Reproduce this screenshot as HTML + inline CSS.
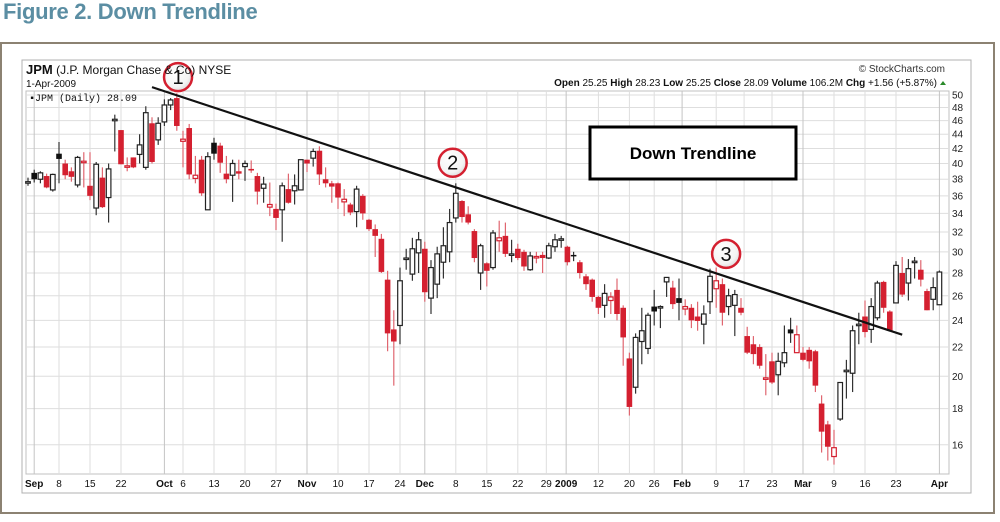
<!DOCTYPE html>
<html><head><meta charset="utf-8">
<style>
html,body{margin:0;padding:0;background:#fff;width:1000px;height:522px;overflow:hidden}
svg{display:block;font-family:"Liberation Sans",Arial,sans-serif}
</style></head>
<body>
<svg id="chart" width="1000" height="522" viewBox="0 0 1000 522">
<defs>
<radialGradient id="cg1" cx="40%" cy="35%" r="70%"><stop offset="0" stop-color="#ffffff"/><stop offset="0.7" stop-color="#f4f4f4"/><stop offset="1" stop-color="#d8d8d8"/></radialGradient>
</defs>
<text x="3" y="19" font-size="22" font-weight="bold" fill="#5b8ea3" letter-spacing="-0.3">Figure 2. Down Trendline</text>
<rect x="1" y="43" width="993" height="470" fill="none" stroke="#8c8272" stroke-width="2"/>
<rect x="22" y="60" width="949" height="433" fill="#fff" stroke="#b0b0b0" stroke-width="1"/>
<rect x="26" y="91" width="923" height="383" fill="#fff" stroke="#c0c0c0" stroke-width="1"/>
<g id="grid"></g>
<g id="yaxis"></g>
<g id="xaxis"></g>
<g id="candles"></g>
<g id="trend"></g>
<text x="26" y="74" font-size="12" fill="#111"><tspan font-weight="bold" font-size="13">JPM</tspan> (J.P. Morgan Chase &amp; Co) NYSE</text>
<text x="26" y="87" font-size="10" fill="#111">1-Apr-2009</text>
<text x="945" y="72" font-size="10" fill="#333" text-anchor="end">© StockCharts.com</text>
<text x="937" y="86" font-size="10" fill="#111" text-anchor="end"><tspan font-weight="bold">Open</tspan> 25.25  <tspan font-weight="bold">High</tspan> 28.23  <tspan font-weight="bold">Low</tspan> 25.25  <tspan font-weight="bold">Close</tspan> 28.09  <tspan font-weight="bold">Volume</tspan> 106.2M  <tspan font-weight="bold">Chg</tspan> +1.56 (+5.87%)</text>
<polygon points="940,85 946,85 943,81" fill="#2a8a2a"/>
<text x="29" y="101" font-size="10" font-family="Liberation Mono, monospace" fill="#111">▪JPM (Daily) 28.09</text>
<rect x="590" y="127" width="206" height="52" fill="#fff" stroke="#000" stroke-width="3"/>
<text x="693" y="159" font-size="17" font-weight="bold" text-anchor="middle" fill="#000">Down Trendline</text>
</svg>
<script>
const opens=[37.7,38.8,38.0,38.4,36.7,41.3,40.0,39.0,37.3,40.2,37.2,34.6,38.2,35.8,46.0,44.6,39.6,40.8,41.2,39.5,45.6,43.2,45.8,48.4,49.5,43.0,44.9,38.1,40.5,34.4,42.8,42.4,38.7,38.5,39.0,39.6,39.3,38.4,36.9,34.7,34.5,34.4,36.8,36.6,36.7,40.5,40.7,41.7,38.0,37.5,37.5,35.3,35.0,34.2,36.0,33.3,32.3,31.3,27.4,23.3,23.6,29.3,27.9,29.9,30.3,25.8,27.0,29.0,30.0,33.5,35.4,33.9,32.1,28.0,28.9,28.5,31.1,31.6,29.7,30.3,30.0,28.3,29.5,29.7,29.4,30.5,31.2,30.5,29.7,29.0,27.7,27.4,25.9,25.2,25.6,26.5,25.0,21.2,19.3,22.4,21.9,25.1,25.0,27.2,26.7,25.8,24.9,25.0,24.3,23.7,25.5,26.6,27.0,25.1,25.2,25.0,22.8,22.2,22.0,19.8,21.0,20.1,20.9,23.3,21.6,21.6,21.8,21.7,18.3,17.1,15.4,17.4,20.3,20.2,23.6,24.3,23.3,24.2,27.2,24.7,25.4,28.0,27.1,29.0,28.3,26.4,25.7,25.25];
const highs=[38.2,39.2,39.0,38.7,38.7,42.9,40.5,39.5,41.0,41.5,41.5,40.2,39.5,40.0,46.9,44.6,40.8,40.8,44.0,48.2,46.5,46.5,49.3,49.5,50.3,44.5,45.5,41.0,41.0,41.5,43.5,42.8,41.0,40.5,40.5,40.4,40.4,38.8,38.3,37.6,35.1,37.6,38.7,38.6,40.5,40.5,42.0,42.3,39.5,37.8,37.6,36.8,35.2,37.2,36.2,33.4,32.8,31.8,28.2,24.8,28.5,30.3,31.4,32.0,31.0,29.2,30.5,32.5,34.5,37.5,35.5,34.8,32.3,30.8,29.0,32.2,33.2,33.0,31.2,30.8,30.2,30.0,30.0,30.0,30.9,31.8,31.6,30.6,30.0,29.2,27.9,27.5,26.0,27.0,26.3,27.5,25.2,21.6,23.0,25.0,24.6,26.5,25.2,27.6,27.3,27.5,25.7,25.3,25.5,25.2,28.4,28.5,27.5,26.6,26.5,25.8,23.5,22.8,22.2,21.5,21.6,21.6,23.6,24.2,23.6,22.0,22.0,21.8,18.8,17.3,16.8,19.6,21.1,23.6,24.6,25.6,25.8,27.3,27.3,24.8,29.1,29.5,29.3,29.5,29.2,26.6,27.6,28.23];
const lows=[37.2,37.6,37.5,36.9,36.5,37.5,38.0,37.7,37.0,37.0,35.5,33.8,34.6,33.0,41.6,39.9,39.0,39.4,40.0,39.2,40.0,42.5,45.2,47.6,44.5,39.5,38.0,37.5,36.0,34.4,40.5,38.8,37.5,35.3,38.0,37.8,38.8,35.0,35.2,33.7,32.2,31.0,35.1,35.0,36.7,38.9,39.6,37.3,37.0,35.2,34.5,33.7,33.8,32.5,33.3,32.1,29.5,28.0,21.7,19.4,22.2,28.3,27.3,28.0,25.5,24.5,25.8,27.5,29.0,33.0,33.0,32.8,29.0,26.5,26.8,28.3,30.0,29.5,29.0,29.2,28.2,28.2,28.9,28.0,29.3,30.0,30.4,28.7,29.1,27.5,26.5,25.5,24.5,24.2,24.5,24.0,20.7,17.6,18.9,20.8,21.5,23.6,23.4,25.9,24.9,24.0,24.4,23.4,23.2,22.2,24.5,25.0,23.6,24.4,22.8,24.4,21.5,20.8,20.5,18.8,19.5,18.8,20.6,22.3,21.6,21.0,20.5,19.0,15.6,15.2,15.0,17.3,18.6,19.0,22.2,22.7,22.3,24.0,24.6,23.2,25.4,25.9,25.6,27.5,26.8,24.8,24.8,25.25];
const closes=[37.7,38.0,38.8,37.0,38.6,40.6,38.5,38.3,40.8,40.3,36.0,39.9,34.7,39.3,46.2,39.9,39.7,39.5,42.5,47.2,40.2,45.6,48.4,49.2,45.2,43.3,38.6,38.5,36.3,40.9,41.3,40.1,38.0,40.0,38.7,40.0,39.1,36.5,37.4,35.0,33.5,37.2,35.2,37.2,40.5,40.0,41.6,38.6,37.5,37.1,35.8,35.6,34.1,36.8,34.0,32.3,31.6,28.1,23.0,22.4,27.3,29.4,30.3,31.2,26.3,28.5,29.8,30.6,33.0,36.3,33.6,33.0,29.4,30.6,28.2,31.9,31.4,29.8,29.8,29.4,28.6,29.6,29.55,29.4,30.6,31.2,31.3,29.0,29.6,28.0,27.0,25.9,25.0,26.2,25.9,24.5,22.7,18.1,22.7,23.2,24.4,24.7,25.1,27.6,25.3,25.4,25.1,24.0,23.95,24.5,27.7,27.3,24.6,26.0,26.1,24.6,21.6,21.5,20.7,19.9,19.6,21.0,21.6,23.0,22.9,21.1,21.0,19.4,16.7,15.9,15.85,19.6,20.4,23.2,23.7,23.1,25.1,27.1,25.0,23.2,28.7,26.1,28.4,29.1,27.4,24.8,26.7,28.09];
const yTicks=[50,48,46,44,42,40,38,36,34,32,30,28,26,24,22,20,18,16];
const xTickLabels=["Sep","8","15","22","Oct","6","13","20","27","Nov","10","17","24","Dec","8","15","22","29","2009","12","20","26","Feb","9","17","23","Mar","9","16","23","Apr"];
const xTickIndex=[1,5,10,15,22,25,30,35,40,45,50,55,60,64,69,74,79,83.6,86.8,92,97,101,105.5,111,115.5,120,125,130,135,140,147];
const xTickMonth=[1,0,0,0,1,0,0,0,0,1,0,0,0,1,0,0,0,0,1,0,0,0,1,0,0,0,1,0,0,0,1];
const trendIdx=[20,141];
const trendPrice=[51.3,22.9];
const calloutLabels=["1","2","3"];
const calloutIdx=[24.2,68.5,112.6];
const calloutPrice=[53.0,40.1,29.8];

const NS="http://www.w3.org/2000/svg";
function xS(i){return 28+i*6.2;}
function yS(p){return 163.5-307*Math.log(p/40);}
function mk(tag,attrs,parent){const e=document.createElementNS(NS,tag);for(const k in attrs)e.setAttribute(k,attrs[k]);parent.appendChild(e);return e;}
const grid=document.getElementById('grid'),yax=document.getElementById('yaxis'),xax=document.getElementById('xaxis'),cg=document.getElementById('candles'),tg=document.getElementById('trend');

yTicks.forEach(v=>{
  const y=yS(v);
  const l=mk('line',{x1:26,x2:949,y1:y,y2:y,stroke:'#dedede','stroke-width':1},grid);
  
  
  const t=mk('text',{x:952,y:y+3.5,'font-size':10,fill:'#222'},yax);
  t.textContent=v;
  
  
});
xTickLabels.forEach((s,k)=>{
  const x=xS(xTickIndex[k]);
  const l=mk('line',{x1:x,x2:x,y1:91,y2:474,stroke:xTickMonth[k]?'#c4c4c4':'#dedede','stroke-width':1},grid);
  
  
  const t=mk('text',{x:x,y:487,'font-size':10,'text-anchor':'middle',fill:'#111','font-weight':xTickMonth[k]?'bold':'normal'},xax);
  t.textContent=s;
  
  
});
closes.forEach((c,i)=>{
  const o=opens[i],h=highs[i],lo=lows[i],prev=i>0?closes[i-1]:c;
  const x=xS(i);
  const up=c>=o, gain=c>=prev;
  const col=gain?'#222':'#d42030';
  const g=mk('g',{},cg);
  
  
  mk('line',{x1:x,x2:x,y1:yS(h),y2:yS(lo),stroke:gain?'#333':'#e06670','stroke-width':1.2},g);
  const top=yS(Math.max(o,c)),bot=yS(Math.min(o,c));
  const hgt=Math.max(bot-top,1.5);
  if(up){mk('rect',{x:x-2.3,y:top,width:4.6,height:hgt,fill:'#fff',stroke:col,'stroke-width':1.2},g);}
  else{mk('rect',{x:x-2.8,y:top,width:5.6,height:hgt,fill:gain?'#111':'#d42030'},g);}
});
const tl=mk('line',{x1:xS(trendIdx[0]),y1:yS(trendPrice[0]),x2:xS(trendIdx[1]),y2:yS(trendPrice[1]),stroke:'#111','stroke-width':2.2},tg);


calloutLabels.forEach((s,k)=>{
  const cx=xS(calloutIdx[k]),cy=yS(calloutPrice[k]);
  const g=mk('g',{},tg);
  
  
  mk('circle',{cx:cx,cy:cy,r:14,fill:'url(#cg1)',stroke:'#d42030','stroke-width':2.5},g);
  const t=mk('text',{x:cx,y:cy+7,'font-size':20,'text-anchor':'middle',fill:'#111'},g);
  t.textContent=s;
});
</script>
</body></html>
